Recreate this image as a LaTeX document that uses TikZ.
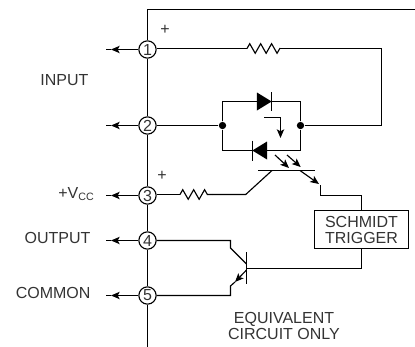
\documentclass[tikz,border=0pt]{standalone}
\usepackage{fontspec}
\setmainfont{Liberation Sans}
\usepackage{tikz}
\usetikzlibrary{arrows.meta,shapes.geometric,decorations.pathmorphing}

\begin{document}
\begin{tikzpicture}[>={Stealth[length=6.5pt,width=5.5pt,inset=1.5pt]},x=0.75pt,y=-0.75pt,line width=0.85pt,
                    every node/.style={text=black!80,font=\fontsize{12}{14}\selectfont}]
  \tikzstyle{pin}=[circle,draw,fill=white,inner sep=0pt,minimum size=13pt]
  \tikzstyle{dot}=[circle,fill=black,inner sep=0pt,minimum size=5.5pt]
  \tikzstyle{tag}=[anchor=east,inner sep=0pt]
  \tikzstyle{diode}=[isosceles triangle,isosceles triangle stretches,fill=black,
                     inner sep=0pt,outer sep=0pt,minimum width=13.5pt,minimum height=11pt]
  \tikzstyle{resistor}=[decorate,decoration={zigzag,segment length=8.2pt,amplitude=3.6pt}]

  \useasboundingbox (0,0) rectangle (415,347);

  % pins on the bus
  \node[pin] (P1) at (147.5,49.5)  {1};
  \node[pin] (P2) at (147.5,125.5) {2};
  \node[pin] (P3) at (147.5,195.5) {3};
  \node[pin] (P4) at (147.5,240.5) {4};
  \node[pin] (P5) at (147.5,295.5) {5};

  \coordinate (TR) at (415,9.5);
  \coordinate (TL) at (147.5,9.5);
  \coordinate (BL) at (147.5,347);

  \draw (TR) -- (TL) -- (P1) (P1) -- (P2) (P2) -- (P3) (P3) -- (P4) (P4) -- (P5) (P5) -- (BL);

  % arrows out of the pins
  \foreach \n/\y in {1/49.5,2/125.5,3/195.5,4/240.5,5/295.5} {
    \coordinate (H\n) at (111,\y);
    \coordinate (E\n) at (106,\y);
    \path (P\n) edge[->] (H\n)
          (H\n) edge (E\n);
  }

  % labels
  \node[tag] (INPUT)  at (89,80)  {INPUT};
  \node[tag] (VCC)    at (95,194) {+V\textsubscript{CC}};
  \node[tag] (OUTPUT) at (91,238) {OUTPUT};
  \node[tag] (COMMON) at (91,293) {COMMON};
  \node (PL1) at (165,30)  {+};
  \node (PL3) at (162,176) {+};

  % input side
  \coordinate (R1a) at (247,48.5);
  \coordinate (R1b) at (280,48.5);
  \coordinate (RC)  at (381.5,48.5);
  \node[dot] (JL) at (222.5,125.5) {};
  \node[dot] (JR) at (300.5,125.5) {};
  \node[diode] (D1) at (262,101.5) {};
  \node[diode,shape border rotate=180] (D2) at (262,150.5) {};

  \draw (P1.east |- R1a) -- (R1a);
  \draw[resistor] (R1a) -- (R1b);
  \draw (R1b) -- (RC) |- (JR);
  \draw (P2) -- (JL);
  \draw (JL) |- (D1.lower side);
  \draw (D1.apex) -| (JR);
  \draw (JL) |- (D2.apex);
  \draw (D2.lower side) -| (JR);
  \draw (D1.apex) ++(0,-9.5) -- ++(0,19);
  \draw (D2.apex) ++(0,-10) -- ++(0,20);

  \coordinate (CA) at (264,117.5);
  \coordinate (CB) at (280.5,138);
  \draw[->] (CA) -| (CB);

  % opto transistor
  \coordinate (BA) at (258,170.5);
  \coordinate (BB) at (315,170.5);
  \coordinate (CO) at (272,170.5);
  \coordinate (EO) at (300,170.5);
  \coordinate (ET) at (319,184);
  \coordinate (EK) at (320.5,185);
  \coordinate (R3a) at (180,194.5);
  \coordinate (R3b) at (212,194.5);
  \coordinate (CK) at (245.7,194.5);
  \coordinate (L1a) at (275,155);
  \coordinate (L1b) at (289,168);
  \coordinate (L2a) at (287,155);
  \coordinate (L2b) at (300.7,167);

  \draw (BA) -- (BB);
  \draw[->] (L1a) -- (L1b);
  \draw[->] (L2a) -- (L2b);
  \draw (P3.east |- R3a) -- (R3a);
  \draw[resistor] (R3a) -- (R3b);
  \draw (R3b) -- (CK) -- (CO);
  \draw[->] (EO) -- (ET);

  % trigger and output transistor
  \node[draw,minimum width=71pt,minimum height=29pt,inner sep=0pt] (ST) at (361.5,229.5)
       {\shortstack[c]{SCHMIDT\\[0.5pt]TRIGGER}};
  \coordinate (TK) at (320.5,195.5);
  \coordinate (BQ) at (246.5,268.5);
  \coordinate (BQa) at (246.5,252);
  \coordinate (BQb) at (246.5,284);
  \coordinate (CQa) at (246.5,264);
  \coordinate (CQb) at (230.5,248);
  \coordinate (CQc) at (230.5,240.5);
  \coordinate (EQa) at (246.5,270);
  \coordinate (EQb) at (235,282);
  \coordinate (EQc) at (230.5,286);
  \coordinate (EQd) at (230.5,295.5);

  \draw (EK) -- (TK) -| (ST.north);
  \draw (ST.south) |- (BQ);
  \draw (BQa) -- (BQb);
  \draw (P4) -- (CQc) -- (CQb) -- (CQa);
  \draw[->] (EQa) -- (EQb);
  \draw (EQb) -- (EQc) -- (EQd) -- (P5);

  \node (NOTE) at (284,326) {\shortstack[c]{EQUIVALENT\\[-1.5pt]CIRCUIT ONLY}};
\end{tikzpicture}
\end{document}
